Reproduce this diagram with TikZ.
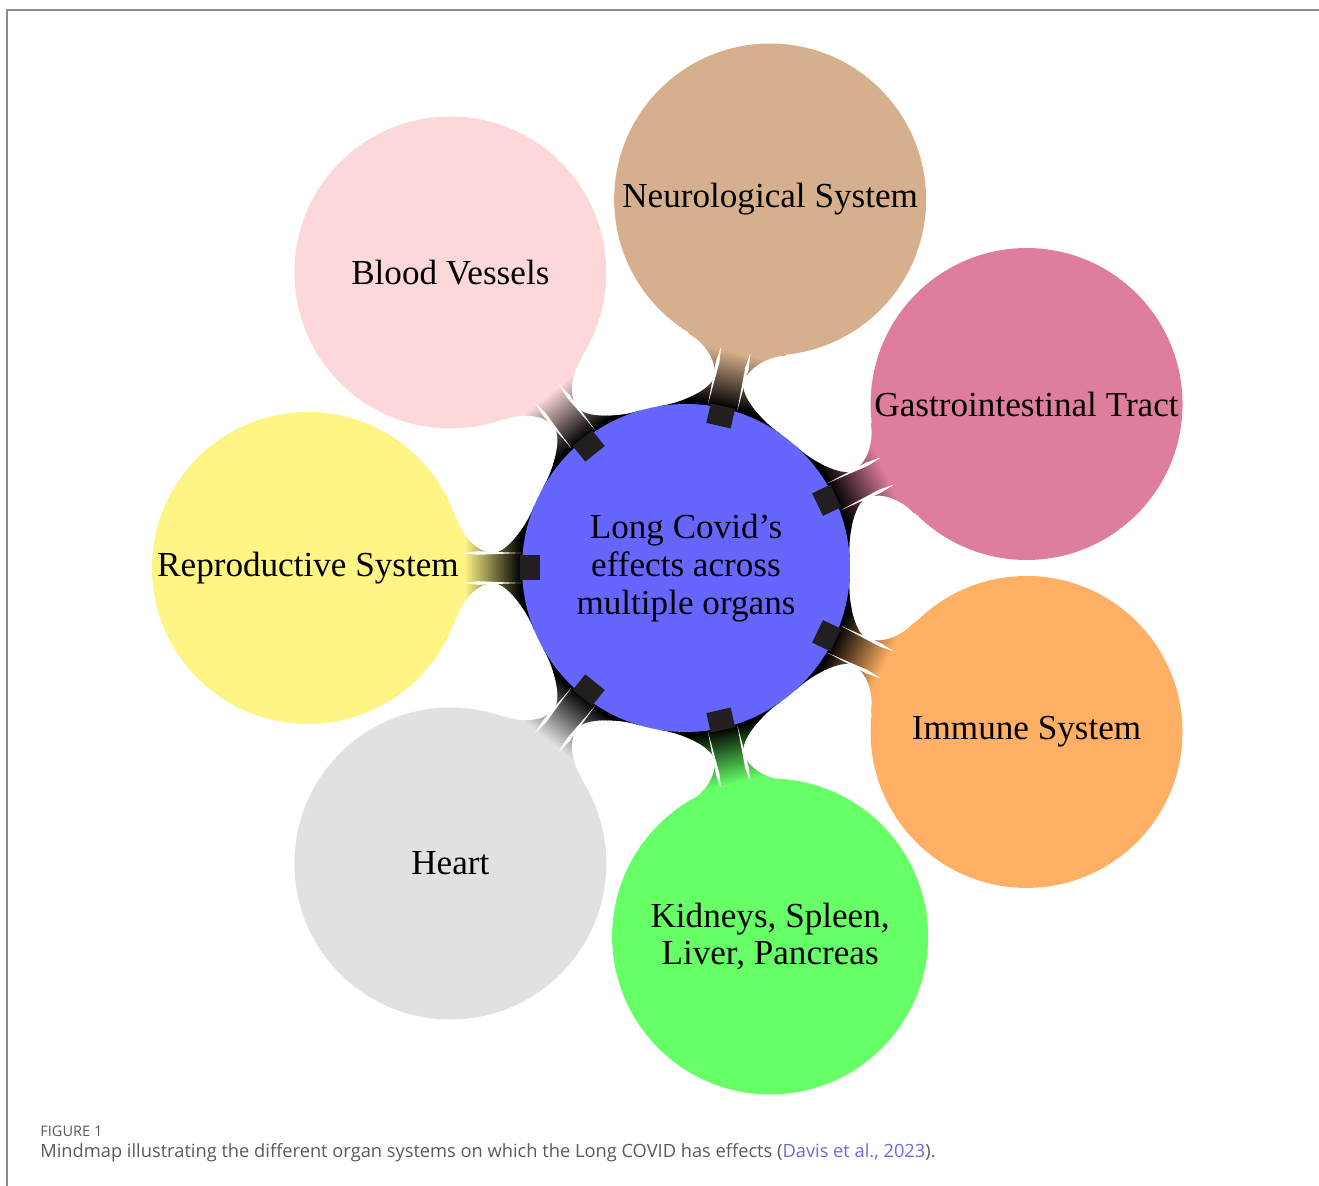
\documentclass[tikz,border=0pt]{standalone}
\usepackage{fontspec}
\setmainfont{Liberation Serif}
\newfontfamily\capfont{Open Sans}
\usetikzlibrary{calc,backgrounds}
\definecolor{cblue}{HTML}{6666FF}
\definecolor{ctan}{HTML}{D6B08C}
\definecolor{cpink}{HTML}{FDD8D8}
\definecolor{crose}{HTML}{DE7E9C}
\definecolor{cyellow}{HTML}{FEF584}
\definecolor{corange}{HTML}{FFB064}
\definecolor{cgreen}{HTML}{66FF66}
\definecolor{cgray}{HTML}{E0E1E3}
\definecolor{markc}{HTML}{231F20}
\definecolor{framegray}{HTML}{8A8A8A}
\definecolor{capgray}{HTML}{5A5A5A}
\definecolor{linkc}{HTML}{6B6BDB}
\newcommand\conbar[3]{%
  \pgfmathanglebetweenpoints{\pgfpointanchor{#1}{center}}{\pgfpointanchor{#2}{center}}%
  \let\cbang\pgfmathresult
  \begin{pgfonlayer}{background}
  \begin{scope}[shift={(#1.center)}, rotate=\cbang]
    \begin{scope}
      \clip (140,62) -- (151.9,62) .. controls (159.5,42) and (179,15) .. (193,15)
        .. controls (207,15) and (223.4,30) .. (229.2,50) -- (250,50) -- (250,-50) -- (229.2,-50)
        .. controls (223.4,-30) and (207,-15) .. (193,-15)
        .. controls (179,-15) and (159.5,-42) .. (151.9,-62) -- (140,-62) -- cycle;
      \fill[black] (130,-70) rectangle (165,70);
      \foreach \i in {0,...,28}{\pgfmathsetmacro\p{100*\i/28}\fill[#3!\p!black] ({164+2*\i},-70) rectangle ({166.6+2*\i},70);}
      \fill[#3] (221,-70) rectangle (260,70);
    \end{scope}
    \fill[white] (165,15) -- (208,16.8) -- (224,15) -- (208,13.2) -- cycle;
    \fill[white] (165,-15) -- (208,-16.8) -- (224,-15) -- (208,-13.2) -- cycle;
  \end{scope}
  \end{pgfonlayer}
  \begin{scope}[shift={(#1.center)}, rotate=\cbang]
    \fill[markc] (146,-12.5) rectangle (166,12.5);
  \end{scope}}
\begin{document}
\begin{tikzpicture}[x=0.02cm,y=0.02cm,
  concept/.style={circle, inner sep=0pt, draw=none, align=center,
    font=\fontsize{20}{21.5}\selectfont, text=black, minimum size=6.24cm},
  frameline/.style={draw=framegray, line width=0.9pt}]
\useasboundingbox (0,0) rectangle (1319,1186);
\coordinate (ftl) at (7,1176);
\coordinate (fbl) at (7,0);
\coordinate (ftr) at (1319,1176);
\draw[frameline] (fbl) -- (ftl) -- (ftr);
\node[concept, fill=cblue, minimum size=6.56cm] (c) at (686,618) {Long Covid’s\\effects across\\multiple organs};
\node[concept, fill=cyellow] (repro) at ($(c)+(180:378)$) {Reproductive System};
\node[concept, fill=cpink] (blood) at ($(c)+(128.57:378)$) {Blood Vessels};
\node[concept, fill=ctan] (neuro) at ($(c)+(77.14:378)$) {Neurological System};
\node[concept, fill=crose] (gi) at ($(c)+(25.71:378)$) {Gastrointestinal Tract};
\node[concept, fill=corange] (immune) at ($(c)+(-25.71:378)$) {Immune System};
\node[concept, fill=cgreen, minimum size=6.32cm] (kidneys) at ($(c)+(-77.14:378)$) {Kidneys, Spleen,\\Liver, Pancreas};
\node[concept, fill=cgray] (heart) at ($(c)+(-128.57:378)$) {Heart};
\conbar{c}{repro}{cyellow}
\conbar{c}{blood}{cpink}
\conbar{c}{neuro}{ctan}
\conbar{c}{gi}{crose}
\conbar{c}{immune}{corange}
\conbar{c}{kidneys}{cgreen}
\conbar{c}{heart}{cgray}
\node[anchor=west, inner sep=0pt, text=capgray, font=\capfont\fontsize{8.3}{10}\selectfont] (figlabel) at (40,55) {FIGURE 1};
\node[anchor=west, inner sep=0pt, text=capgray, font=\capfont\fontsize{10.4}{12}\selectfont] (caption) at (40,33) {Mindmap illustrating the different organ systems on which the Long COVID has effects (\textcolor{linkc}{Davis et al., 2023}).};
\end{tikzpicture}
\end{document}
